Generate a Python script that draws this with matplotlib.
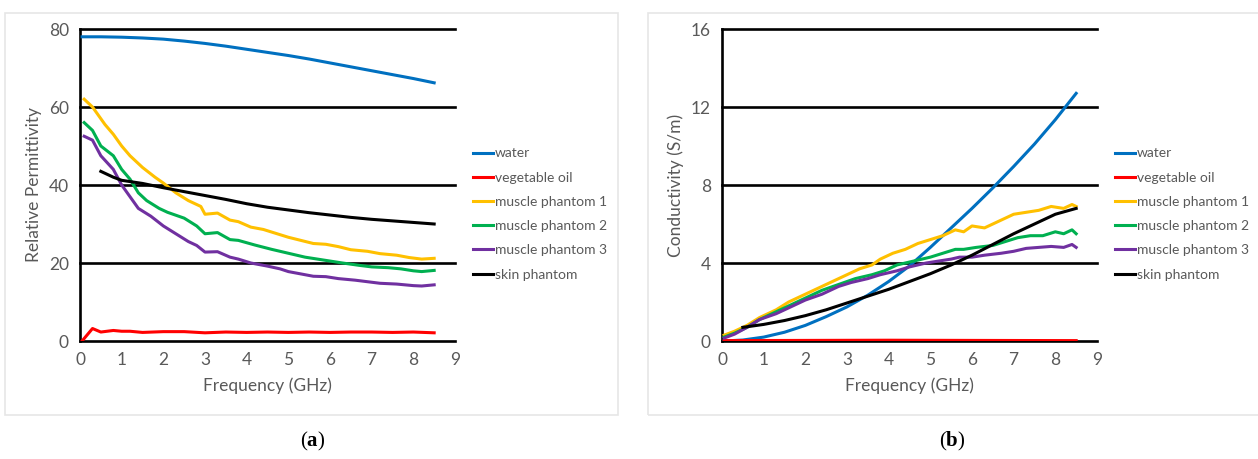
"""Relative permittivity and conductivity of water, oil and tissue phantoms."""

import matplotlib

matplotlib.use("Agg")
import matplotlib.pyplot as plt
from matplotlib.patches import Rectangle

# ───────────────────────── data ──────────────────────────

SERIES = ["water", "vegetable oil", "muscle phantom 1",
          "muscle phantom 2", "muscle phantom 3", "skin phantom"]
COLORS = ["#0070C0", "#FF0000", "#FFC000", "#00B050", "#7030A0", "#000000"]

# (a) relative permittivity
eps_water_f = [0.05, 0.5, 1, 1.5, 2, 2.5, 3, 3.5, 4, 4.5, 5, 5.5, 6, 6.5, 7, 7.5, 8, 8.5]
eps_water = [78.0, 78.0, 77.9, 77.7, 77.4, 76.9, 76.3, 75.6, 74.8, 74.0, 73.2, 72.3,
             71.3, 70.3, 69.3, 68.3, 67.3, 66.2]

eps_oil_f = [0.05, 0.3, 0.5, 0.8, 1.0, 1.2, 1.5, 2.0, 2.5, 3.0, 3.5, 4.0, 4.5, 5.0,
             5.5, 6.0, 6.5, 7.0, 7.5, 8.0, 8.5]
eps_oil = [0.0, 3.2, 2.3, 2.7, 2.5, 2.5, 2.2, 2.4, 2.4, 2.1, 2.3, 2.2, 2.3, 2.2,
           2.3, 2.2, 2.3, 2.3, 2.2, 2.3, 2.1]

eps_m1_f = [0.1, 0.3, 0.6, 0.8, 1.0, 1.2, 1.5, 1.8, 2.0, 2.3, 2.6, 2.9, 3.0, 3.3,
            3.6, 3.8, 4.1, 4.4, 4.7, 5.0, 5.3, 5.6, 5.9, 6.2, 6.5, 6.9, 7.2, 7.6,
            7.9, 8.2, 8.5]
eps_m1 = [62.0, 60.0, 55.5, 53.0, 50.0, 47.5, 44.5, 42.0, 40.5, 38.0, 36.0, 34.5,
          32.5, 32.8, 31.0, 30.6, 29.2, 28.6, 27.6, 26.6, 25.8, 25.0, 24.8, 24.2,
          23.4, 23.0, 22.4, 22.0, 21.4, 21.0, 21.2]

eps_m2_f = [0.1, 0.3, 0.5, 0.8, 1.0, 1.2, 1.4, 1.6, 1.9, 2.1, 2.5, 2.8, 3.0, 3.3,
            3.6, 3.8, 4.2, 4.6, 5.0, 5.4, 5.7, 6.0, 6.3, 6.7, 7.0, 7.4, 7.7, 8.0,
            8.2, 8.5]
eps_m2 = [56.0, 54.0, 50.0, 47.5, 44.0, 41.5, 38.0, 36.0, 34.0, 33.0, 31.5, 29.5,
          27.5, 27.8, 26.0, 25.8, 24.6, 23.5, 22.5, 21.5, 21.0, 20.5, 20.0, 19.4,
          19.0, 18.8, 18.5, 18.0, 17.8, 18.1]

eps_m3_f = [0.1, 0.3, 0.5, 0.8, 1.0, 1.2, 1.4, 1.7, 2.0, 2.3, 2.6, 2.8, 3.0, 3.3,
            3.6, 3.8, 4.1, 4.5, 4.8, 5.0, 5.3, 5.6, 5.9, 6.2, 6.6, 6.9, 7.2, 7.6,
            8.0, 8.2, 8.5]
eps_m3 = [52.5, 51.5, 47.5, 44.0, 40.0, 37.0, 34.0, 32.0, 29.5, 27.5, 25.5, 24.5,
          22.8, 22.9, 21.5, 21.0, 20.0, 19.2, 18.5, 17.8, 17.2, 16.6, 16.5, 16.0,
          15.6, 15.2, 14.8, 14.6, 14.2, 14.1, 14.4]

eps_skin_f = [0.5, 0.8, 1.0, 1.5, 2.0, 2.5, 3.0, 3.5, 4.0, 4.5, 5.0, 5.5, 6.0, 6.5,
              7.0, 7.5, 8.0, 8.5]
eps_skin = [43.5, 42.0, 41.2, 40.4, 39.3, 38.3, 37.3, 36.3, 35.2, 34.3, 33.6, 32.9,
            32.3, 31.7, 31.2, 30.8, 30.4, 30.0]

# (b) conductivity
sig_water_f = [0.05, 0.5, 1, 1.5, 2, 2.5, 3, 3.5, 4, 4.5, 5, 5.5, 6, 6.5, 7, 7.5, 8, 8.5]
sig_water = [0.0, 0.05, 0.2, 0.45, 0.8, 1.25, 1.75, 2.35, 3.05, 3.85, 4.8, 5.8,
             6.8, 7.85, 8.95, 10.1, 11.35, 12.7]

sig_oil_f = [0.05, 2.0, 4.0, 6.0, 8.5]
sig_oil = [0.02, 0.03, 0.04, 0.03, 0.02]

sig_m1_f = [0.05, 0.3, 0.6, 0.9, 1.3, 1.6, 2.0, 2.4, 2.8, 2.9, 3.3, 3.6, 3.8, 4.1,
            4.4, 4.7, 5.0, 5.3, 5.6, 5.8, 6.0, 6.3, 6.6, 6.8, 7.0, 7.3, 7.6, 7.9,
            8.2, 8.4, 8.5]
sig_m1 = [0.3, 0.5, 0.8, 1.2, 1.6, 2.0, 2.4, 2.8, 3.2, 3.3, 3.7, 3.9, 4.2, 4.5,
          4.7, 5.0, 5.2, 5.4, 5.7, 5.6, 5.9, 5.8, 6.1, 6.3, 6.5, 6.6, 6.7, 6.9,
          6.8, 7.0, 6.9]

sig_m2_f = [0.05, 0.3, 0.6, 0.9, 1.3, 1.7, 2.0, 2.4, 2.8, 3.2, 3.6, 3.9, 4.2, 4.6,
            5.0, 5.3, 5.6, 5.8, 6.1, 6.5, 6.8, 7.1, 7.4, 7.7, 8.0, 8.2, 8.4, 8.5]
sig_m2 = [0.2, 0.4, 0.7, 1.1, 1.5, 1.9, 2.2, 2.6, 2.9, 3.2, 3.4, 3.6, 3.9, 4.1,
          4.3, 4.5, 4.7, 4.7, 4.8, 4.9, 5.1, 5.3, 5.4, 5.4, 5.6, 5.5, 5.7, 5.5]

sig_m3_f = [0.05, 0.3, 0.6, 0.9, 1.3, 1.7, 2.0, 2.4, 2.8, 3.1, 3.5, 3.8, 4.2, 4.5,
            4.9, 5.2, 5.5, 5.7, 6.0, 6.3, 6.7, 7.0, 7.3, 7.6, 7.9, 8.2, 8.4, 8.5]
sig_m3 = [0.15, 0.35, 0.7, 1.1, 1.4, 1.8, 2.1, 2.4, 2.8, 3.0, 3.2, 3.4, 3.6, 3.8,
          4.0, 4.1, 4.2, 4.3, 4.3, 4.4, 4.5, 4.6, 4.75, 4.8, 4.85, 4.8, 4.95, 4.8]

sig_skin_f = [0.5, 1.0, 1.5, 2.0, 2.5, 3.0, 3.5, 4.0, 4.5, 5.0, 5.5, 6.0, 6.5, 7.0,
              7.5, 8.0, 8.5]
sig_skin = [0.7, 0.85, 1.05, 1.3, 1.6, 1.95, 2.3, 2.65, 3.05, 3.45, 3.9, 4.4, 4.95,
            5.5, 6.0, 6.5, 6.8]

EPS = [(eps_water_f, eps_water), (eps_oil_f, eps_oil), (eps_m1_f, eps_m1),
       (eps_m2_f, eps_m2), (eps_m3_f, eps_m3), (eps_skin_f, eps_skin)]
SIG = [(sig_water_f, sig_water), (sig_oil_f, sig_oil), (sig_m1_f, sig_m1),
       (sig_m2_f, sig_m2), (sig_m3_f, sig_m3), (sig_skin_f, sig_skin)]

GRAY = "#595959"

plt.rcParams["font.family"] = ["Lato", "DejaVu Sans"]
plt.rcParams["mathtext.fontset"] = "custom"
plt.rcParams["mathtext.bf"] = "Liberation Serif:bold"
plt.rcParams["mathtext.rm"] = "Liberation Serif"

W, H = 1258, 459
fig = plt.figure(figsize=(W / 100, H / 100), dpi=100)


def px_rect(x0, y0, x1, y1):
    """Pixel box (top-left origin) → figure fraction rect."""
    return [x0 / W, 1 - y1 / H, (x1 - x0) / W, (y1 - y0) / H]


# light panel borders
for x0, x1 in [(5, 618), (648, 1270)]:
    fig.patches.append(Rectangle((x0 / W, 1 - 415 / H), (x1 - x0) / W, 402 / H,
                                 transform=fig.transFigure, fill=False,
                                 edgecolor="#E6E6E6", lw=1.2))


def draw_panel(rect, data, ymax, ystep, ylabel, legend_x, tag, tag_x):
    ax = fig.add_axes(rect)
    for (f, v), name, col in zip(data, SERIES, COLORS):
        lw = 2.6 if name == "skin phantom" else 1.6
        ax.plot(f, v, color=col, lw=lw, label=name, zorder=3)
    ax.set_xlim(0, 9)
    ax.set_ylim(0, ymax)
    ax.set_xticks(range(10))
    ax.set_yticks(range(0, ymax + 1, ystep))
    for y in range(0, ymax + 1, ystep):
        ax.axhline(y, color="black", lw=1.9, zorder=2, clip_on=False)
    for s in ["top", "right", "bottom"]:
        ax.spines[s].set_visible(False)
    ax.spines["left"].set_linewidth(1.9)
    ax.tick_params(length=0, labelsize=12.5, colors=GRAY, pad=8)
    ax.set_xlabel("Frequency (GHz)", fontsize=12.5, color=GRAY, labelpad=7)
    ax.set_ylabel(ylabel, fontsize=12.5, color=GRAY, labelpad=5)

    handles, labels = ax.get_legend_handles_labels()
    for h in handles:
        h.set_linewidth(2.2)
    fig.legend(handles, labels, loc="center left", frameon=False,
               bbox_to_anchor=(legend_x / W, 1 - 214 / H), borderaxespad=0,
               borderpad=0, fontsize=10, handlelength=1.45, handletextpad=0.12,
               labelspacing=0.88, labelcolor=GRAY)

    fig.text(tag_x / W, 1 - 441 / H, rf"($\mathbf{{{tag}}}$)", ha="center",
             va="center", fontsize=15, family="Liberation Serif")
    return ax


draw_panel(px_rect(80, 29, 455, 341), EPS, 80, 20, "Relative Permittivity", 473,
           "a", 313)
draw_panel(px_rect(722, 29, 1097, 341), SIG, 16, 4, "Conductivity (S/m)", 1115,
           "b", 952)

fig.savefig("out.png", dpi=100)
